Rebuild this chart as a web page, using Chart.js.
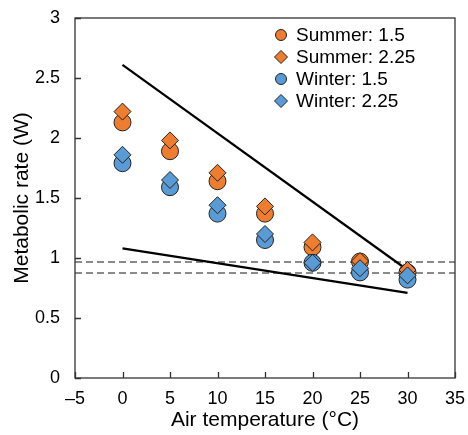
<!DOCTYPE html>
<html>
<head>
<meta charset="utf-8">
<script src="https://cdn.jsdelivr.net/npm/chart.js@4.4.1/dist/chart.umd.min.js"></script>
<style>
  html, body { margin: 0; padding: 0; background: #fff; }
  #wrap { width: 468px; height: 435px; }
</style>
</head>
<body>
<div id="wrap"><canvas id="chart" width="468" height="435"></canvas></div>
<script>
// data
const temps = [0, 5, 10, 15, 20, 25, 30];
const summer15 = [2.13, 1.89, 1.64, 1.37, 1.09, 0.97, 0.88];
const summer225 = [2.22, 1.98, 1.71, 1.43, 1.13, 0.975, 0.90];
const winter15 = [1.79, 1.59, 1.37, 1.15, 0.96, 0.88, 0.82];
const winter225 = [1.86, 1.65, 1.44, 1.20, 0.96, 0.915, 0.855];

const trendX = [0, 30];
const upperTrend = [2.61, 0.90];
const lowerTrend = [1.08, 0.71];

const refX = [-5, 35];
const refLevels = [0.967, 0.875];

const xTicks = [-5, 0, 5, 10, 15, 20, 25, 30, 35];
const yTicks = [0, 0.5, 1, 1.5, 2, 2.5, 3];

const orange = "#ED7D31";
const blue = "#5B9BD5";
const edge = "#222";
const FONT = "'Liberation Sans', Arial, sans-serif";

function pts(xs, ys) {
  return xs.map((x, i) => ({ x: x, y: ys[i] }));
}

const seriesDefs = [
  { label: "Summer: 1.5", data: summer15, color: orange, style: "circle", order: 4, radius: 8.5 },
  { label: "Summer: 2.25", data: summer225, color: orange, style: "rectRot", order: 3, radius: 8.5 },
  { label: "Winter: 1.5", data: winter15, color: blue, style: "circle", order: 2, radius: 8.5 },
  { label: "Winter: 2.25", data: winter225, color: blue, style: "rectRot", order: 1, radius: 8.5 }
];

const datasets = seriesDefs.map(s => ({
  label: s.label,
  data: pts(temps, s.data),
  backgroundColor: s.color,
  borderColor: edge,
  borderWidth: 1,
  pointStyle: s.style,
  pointRadius: s.radius,
  pointHoverRadius: s.radius,
  showLine: false,
  order: s.order
}));

// trend lines and reference levels sit behind the markers
datasets.push({
  label: "upper", data: pts(trendX, upperTrend), showLine: true,
  borderColor: "#000", borderWidth: 2.2, pointRadius: 0, order: 10
});
datasets.push({
  label: "lower", data: pts(trendX, lowerTrend), showLine: true,
  borderColor: "#000", borderWidth: 2.2, pointRadius: 0, order: 10
});
refLevels.forEach(v => {
  datasets.push({
    label: "ref", data: pts(refX, [v, v]), showLine: true,
    borderColor: "#8a8a8a", borderWidth: 2, borderDash: [7, 4], pointRadius: 0, order: 11
  });
});

const framePlugin = {
  id: "frame",
  afterDatasetsDraw(chart) {
    const ctx = chart.ctx;
    const a = chart.chartArea;
    const xs = chart.scales.x, ys = chart.scales.y;
    ctx.save();
    ctx.strokeStyle = "#333";
    ctx.lineWidth = 1.3;
    ctx.strokeRect(a.left, a.top, a.right - a.left, a.bottom - a.top);
    // inward ticks
    ctx.beginPath();
    xTicks.forEach(t => {
      const px = Math.round(xs.getPixelForValue(t)) + 0.5;
      ctx.moveTo(px, a.bottom);
      ctx.lineTo(px, a.bottom - 6);
    });
    yTicks.forEach(t => {
      const py = Math.round(ys.getPixelForValue(t)) + 0.5;
      ctx.moveTo(a.left, py);
      ctx.lineTo(a.left + 6, py);
    });
    ctx.stroke();

    // legend inside the top right of the plot
    const lx = 281, textX = 296, rowY = [35, 57, 79, 101];
    ctx.font = "19px " + FONT;
    ctx.textBaseline = "middle";
    ctx.fillStyle = "#000";
    seriesDefs.forEach((s, i) => {
      const y = rowY[i];
      ctx.beginPath();
      if (s.style === "circle") {
        ctx.arc(lx, y, 5.5, 0, Math.PI * 2);
      } else {
        ctx.moveTo(lx, y - 6.5);
        ctx.lineTo(lx + 6.5, y);
        ctx.lineTo(lx, y + 6.5);
        ctx.lineTo(lx - 6.5, y);
        ctx.closePath();
      }
      ctx.fillStyle = s.color;
      ctx.fill();
      ctx.strokeStyle = edge;
      ctx.lineWidth = 1;
      ctx.stroke();
      ctx.fillStyle = "#000";
      ctx.fillText(s.label, textX, y + 1);
    });
    ctx.restore();
  }
};

new Chart(document.getElementById("chart").getContext("2d"), {
  type: "scatter",
  data: { datasets: datasets },
  options: {
    responsive: false,
    animation: false,
    layout: { padding: { top: 18, right: 13, left: 0, bottom: 0 } },
    plugins: { legend: { display: false }, tooltip: { enabled: false } },
    scales: {
      x: {
        type: "linear", min: -5, max: 35,
        afterBuildTicks: s => { s.ticks = xTicks.map(v => ({ value: v })); },
        afterFit: s => { s.height = 57; },
        grid: { display: false },
        border: { display: false },
        ticks: {
          color: "#000", font: { family: FONT, size: 18 }, padding: 2,
          maxRotation: 0, autoSkip: false,
          callback: v => (v < 0 ? "\u2013" + Math.abs(v) : String(v))
        },
        title: {
          display: true, text: "Air temperature (\u00B0C)", color: "#000",
          font: { family: FONT, size: 21 }, padding: { top: 2, bottom: 2 }
        }
      },
      y: {
        type: "linear", min: 0, max: 3,
        afterBuildTicks: s => { s.ticks = yTicks.map(v => ({ value: v })); },
        afterFit: s => { s.width = 75; },
        grid: { display: false },
        border: { display: false },
        ticks: {
          color: "#000", font: { family: FONT, size: 18 }, padding: 7,
          autoSkip: false,
          callback: v => String(v)
        },
        title: {
          display: true, text: "Metabolic rate (W)", color: "#000",
          font: { family: FONT, size: 21 }, padding: { top: 10, bottom: 10 }
        }
      }
    }
  },
  plugins: [framePlugin]
});
</script>
</body>
</html>
